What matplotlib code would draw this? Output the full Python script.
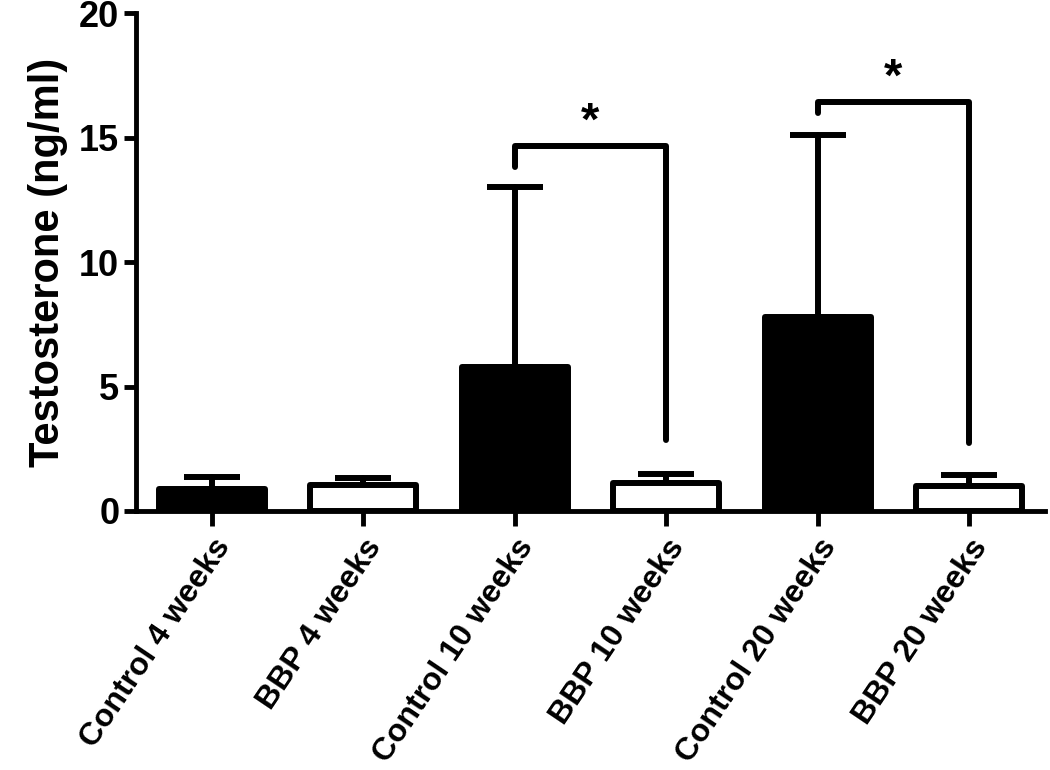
import numpy as np
import matplotlib.pyplot as plt

plt.rcParams['font.family'] = ['Liberation Sans', 'DejaVu Sans']
plt.rcParams['font.weight'] = 'bold'

# Data
groups = ["Control 4 weeks", "BBP 4 weeks", "Control 10 weeks",
          "BBP 10 weeks", "Control 20 weeks", "BBP 20 weeks"]
means = [0.88, 1.05, 5.8, 1.12, 7.8, 1.0]
upper = [1.37, 1.32, 13.0, 1.49, 15.1, 1.46]
fills = ["black", "white", "black", "white", "black", "white"]

# significance brackets: (left bar, right bar, bracket height, left end, right end)
sig_pairs = [(2, 3, 14.66, 13.83, 2.85),
             (4, 5, 16.44, 15.98, 2.73)]

lw = 4.3
x = np.arange(len(groups))
err = np.array(upper) - np.array(means)

fig = plt.figure(figsize=(10.5, 7.7), dpi=100)
ax = fig.add_axes([0.1295, 0.3364, 0.8655, 0.6466])

bars = ax.bar(x, means, width=0.70, color=fills, edgecolor="black",
              linewidth=lw, zorder=2)
for b in bars:
    b.set_joinstyle("round")

eb = ax.errorbar(x, means, yerr=[np.zeros(len(x)), err], fmt="none",
                 ecolor="black", elinewidth=lw, capsize=20, capthick=lw,
                 zorder=1)
for ln in eb[1]:
    ln.set_markeredgewidth(lw)
for col in eb[2]:
    col.set_capstyle("round")

for i, j, h, yl, yr in sig_pairs:
    ax.plot([x[i], x[i], x[j], x[j]], [yl, h, h, yr], color="black",
            linewidth=lw, solid_joinstyle="round", solid_capstyle="round",
            zorder=3)
    ax.text((x[i] + x[j]) / 2, h + 0.05, "*", ha="center", va="bottom",
            fontsize=34, fontweight="bold")

ax.set_xlim(-0.5, 5.5)
ax.set_ylim(0, 20)
ax.set_yticks([0, 5, 10, 15, 20])
ax.set_xticks(x)
ax.set_xticklabels(groups, rotation=56, ha="right", rotation_mode="anchor",
                   fontsize=23, fontweight="bold")
ax.tick_params(axis="y", labelsize=26, width=3.5, length=9, pad=3)
ax.tick_params(axis="x", width=3.5, length=11, pad=5)
for lab in ax.get_yticklabels():
    lab.set_fontweight("bold")

ax.spines["top"].set_visible(False)
ax.spines["right"].set_visible(False)
ax.spines["left"].set_linewidth(3.5)
ax.spines["bottom"].set_linewidth(3.5)

ax.set_ylabel("Testosterone (ng/ml)", fontsize=30, fontweight="bold",
              labelpad=8)

fig.savefig("out.png", dpi=100)
